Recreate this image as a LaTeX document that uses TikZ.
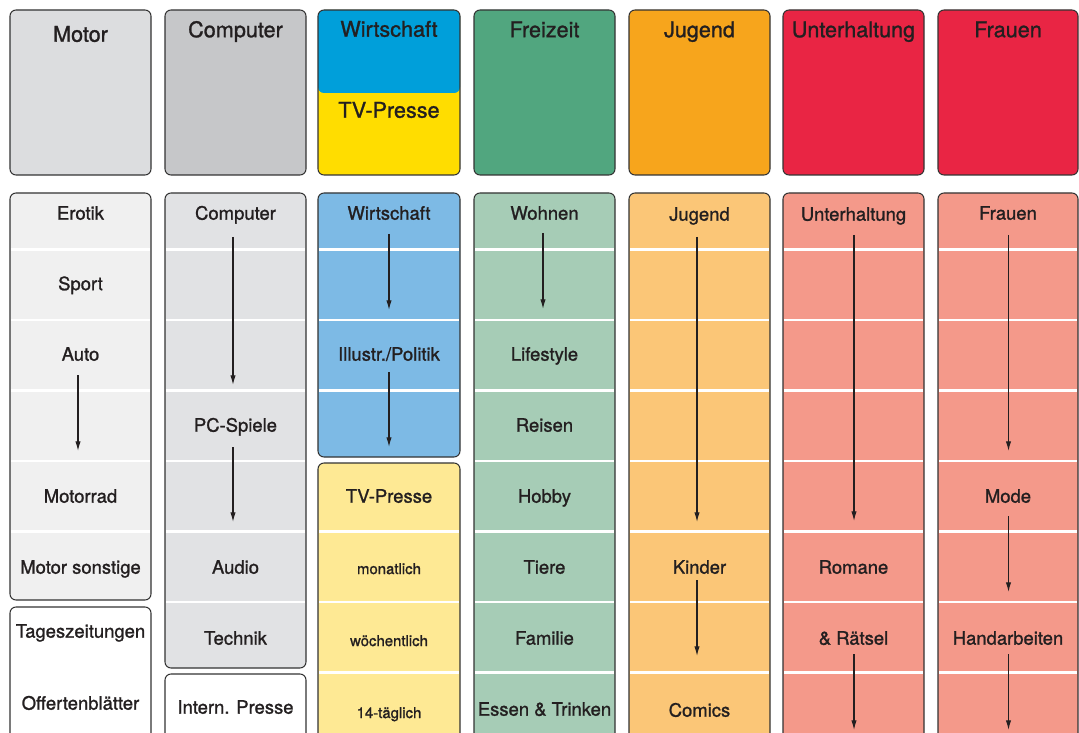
\documentclass[tikz,border=0pt]{standalone}
\usepackage{fontspec}
\setmainfont{TeX Gyre Heros}[FakeBold=1.2]
\usetikzlibrary{arrows.meta}

\definecolor{ink}{HTML}{231F20}
\definecolor{rim}{HTML}{333333}
\definecolor{motortop}{HTML}{DCDDDF}
\definecolor{motorlow}{HTML}{F0F0F0}
\definecolor{comptop}{HTML}{C6C7C9}
\definecolor{complow}{HTML}{E1E2E4}
\definecolor{wirttop}{HTML}{009FDA}
\definecolor{wirtlow}{HTML}{7DBAE5}
\definecolor{tvtop}{HTML}{FFDD00}
\definecolor{tvlow}{HTML}{FEE994}
\definecolor{freitop}{HTML}{51A67F}
\definecolor{freilow}{HTML}{A6CCB6}
\definecolor{jugtop}{HTML}{F7A51C}
\definecolor{juglow}{HTML}{FBC677}
\definecolor{redtop}{HTML}{E92544}
\definecolor{redlow}{HTML}{F4998A}

\begin{document}
\begin{tikzpicture}[x=0.02cm, y=-0.02cm, >={Latex[length=5.5pt,width=3pt]}]
		\clip (0,0) rectangle (1079,733);
		\tikzstyle{box} = [draw=rim, line width=0.6pt, rounded corners=3.4pt]
		\tikzstyle{sep} = [white, line width=1.7pt]
		\tikzstyle{flow} = [->, draw=ink, line width=0.6pt]
		\tikzstyle{every node} = [text=ink, inner sep=0pt, text height=7.6pt, text depth=0pt, font=\fontsize{10.5}{12}\selectfont]
		\tikzstyle{head} = [text height=8.8pt, font=\fontsize{12.3}{14}\selectfont]
		\tikzstyle{small} = [text height=6.3pt, font=\fontsize{8.5}{10}\selectfont]

		% obere Reihe: Gruppen
		\draw[box, fill=motortop] (10,10) rectangle (151,175);
		\draw[box, fill=comptop] (165,10) rectangle (306,175);
		\fill[tvtop, rounded corners=3.4pt] (318,10) rectangle (460,175);
		\fill[wirttop, rounded corners=3.4pt] (318,10) rectangle (460,93);
		\draw[box] (318,10) rectangle (460,175);
		\draw[box, fill=freitop] (474,10) rectangle (615,175);
		\draw[box, fill=jugtop] (629,10) rectangle (770,175);
		\draw[box, fill=redtop] (783,10) rectangle (924,175);
		\draw[box, fill=redtop] (938,10) rectangle (1078,175);

		\node[head] (gmotor) at (80.5,34) {Motor};
		\node[head] (gcomp) at (235.5,29.5) {Computer};
		\node[head] (gwirt) at (389,29) {Wirtschaft};
		\node[head] (gtv) at (389,110) {TV-Presse};
		\node[head] (gfrei) at (544.5,29.5) {Freizeit};
		\node[head] (gjug) at (699.5,29.5) {Jugend};
		\node[head] (gunt) at (853.5,29.5) {Unterhaltung};
		\node[head] (gfrau) at (1008,29.5) {Frauen};

		% Motor
		\draw[box, fill=motorlow] (10,193) rectangle (151,600);
		\draw[sep] (11,249.5) -- (150,249.5) (11,320) -- (150,320) (11,390.5) -- (150,390.5)
			(11,461) -- (150,461) (11,531.5) -- (150,531.5);
		\draw[box, fill=white] (10,607) rectangle (151,760);
		\node (erotik) at (80.5,213) {Erotik};
		\node (sport) at (80.5,283.5) {Sport};
		\node (auto) at (80.5,354) {Auto};
		\node (motorrad) at (80.5,496) {Motorrad};
		\node (motorsonst) at (80.5,567) {Motor sonstige};
		\node (tageszeit) at (80.5,631) {Tageszeitungen};
		\node (offerten) at (80.5,703) {Offertenblätter};

		% Computer
		\draw[box, fill=complow] (165,193) rectangle (306,668);
		\draw[sep] (166,249.5) -- (305,249.5) (166,320) -- (305,320) (166,390.5) -- (305,390.5)
			(166,461) -- (305,461) (166,531.5) -- (305,531.5) (166,602) -- (305,602);
		\draw[box, fill=white] (165,674) rectangle (306,760);
		\node (computer) at (235.5,213) {Computer};
		\node (pcspiele) at (235.5,425) {PC-Spiele};
		\node (audio) at (235.5,567) {Audio};
		\node (technik) at (235.5,638) {Technik};
		\node (intern) at (235.5,707) {Intern. Presse};

		% Wirtschaft / TV-Presse
		\draw[box, fill=wirtlow] (318,193) rectangle (460,457);
		\draw[sep] (319,249.5) -- (459,249.5) (319,320) -- (459,320) (319,390.5) -- (459,390.5);
		\draw[box, fill=tvlow] (318,463) rectangle (460,760);
		\draw[sep] (319,531.5) -- (459,531.5) (319,602) -- (459,602) (319,672.5) -- (459,672.5);
		\node (wirtschaft) at (389,213) {Wirtschaft};
		\node (illustr) at (389,354) {Illustr./Politik};
		\node (tvpresse) at (389,496) {TV-Presse};
		\node[small] (monat) at (389,568.5) {monatlich};
		\node[small] (woche) at (389,640.5) {wöchentlich};
		\node[small] (vierzehn) at (389,712.5) {14-täglich};

		% Freizeit
		\draw[box, fill=freilow] (474,193) rectangle (615,760);
		\draw[sep] (475,249.5) -- (614,249.5) (475,320) -- (614,320) (475,390.5) -- (614,390.5)
			(475,461) -- (614,461) (475,531.5) -- (614,531.5) (475,602) -- (614,602) (475,672.5) -- (614,672.5);
		\node (wohnen) at (544.5,213) {Wohnen};
		\node (lifestyle) at (544.5,354) {Lifestyle};
		\node (reisen) at (544.5,425) {Reisen};
		\node (hobby) at (544.5,496) {Hobby};
		\node (tiere) at (544.5,567) {Tiere};
		\node (familie) at (544.5,638) {Familie};
		\node (essen) at (544.5,709) {Essen \& Trinken};

		% Jugend
		\draw[box, fill=juglow] (629,193) rectangle (770,760);
		\draw[sep] (630,249.5) -- (769,249.5) (630,320) -- (769,320) (630,390.5) -- (769,390.5)
			(630,461) -- (769,461) (630,531.5) -- (769,531.5) (630,602) -- (769,602) (630,672.5) -- (769,672.5);
		\node (jugend) at (699.5,214) {Jugend};
		\node (kinder) at (699.5,567) {Kinder};
		\node (comics) at (699.5,710) {Comics};

		% Unterhaltung
		\draw[box, fill=redlow] (783,193) rectangle (924,760);
		\draw[sep] (784,249.5) -- (923,249.5) (784,320) -- (923,320) (784,390.5) -- (923,390.5)
			(784,461) -- (923,461) (784,531.5) -- (923,531.5) (784,602) -- (923,602) (784,672.5) -- (923,672.5);
		\node (unterhaltung) at (853.5,214) {Unterhaltung};
		\node (romane) at (853.5,567) {Romane};
		\node (raetsel) at (853.5,638) {\& Rätsel};

		% Frauen
		\draw[box, fill=redlow] (938,193) rectangle (1078,760);
		\draw[sep] (939,249.5) -- (1077,249.5) (939,320) -- (1077,320) (939,390.5) -- (1077,390.5)
			(939,461) -- (1077,461) (939,531.5) -- (1077,531.5) (939,602) -- (1077,602) (939,672.5) -- (1077,672.5);
		\node (frauen) at (1008,213) {Frauen};
		\node (mode) at (1008,496) {Mode};
		\node (handarb) at (1008,638) {Handarbeiten};

		% Pfeile
		\coordinate (mo1) at (78,375);   \coordinate (mo2) at (78,451);
		\coordinate (co1) at (233,237);  \coordinate (co2) at (233,385);
		\coordinate (co3) at (233,447);  \coordinate (co4) at (233,522);
		\coordinate (wi1) at (389,234);  \coordinate (wi2) at (389,310);
		\coordinate (wi3) at (389,372);  \coordinate (wi4) at (389,447);
		\coordinate (fr1) at (543,233);  \coordinate (fr2) at (543,309);
		\coordinate (ju1) at (697,237);  \coordinate (ju2) at (697,522);
		\coordinate (ju3) at (697,580);  \coordinate (ju4) at (697,656);
		\coordinate (un1) at (854,235);  \coordinate (un2) at (854,521);
		\coordinate (un3) at (854,654);  \coordinate (un4) at (854,730);
		\coordinate (fa1) at (1008.5,235); \coordinate (fa2) at (1008.5,451);
		\coordinate (fa3) at (1008.5,516); \coordinate (fa4) at (1008.5,592);
		\coordinate (fa5) at (1008.5,654); \coordinate (fa6) at (1008.5,730);

		\draw[flow] (mo1) -- (mo2);
		\draw[flow] (co1) -- (co2);
		\draw[flow] (co3) -- (co4);
		\draw[flow] (wi1) -- (wi2);
		\draw[flow] (wi3) -- (wi4);
		\draw[flow] (fr1) -- (fr2);
		\draw[flow] (ju1) -- (ju2);
		\draw[flow] (ju3) -- (ju4);
		\draw[flow] (un1) -- (un2);
		\draw[flow] (un3) -- (un4);
		\draw[flow] (fa1) -- (fa2);
		\draw[flow] (fa3) -- (fa4);
		\draw[flow] (fa5) -- (fa6);
\end{tikzpicture}
\end{document}
